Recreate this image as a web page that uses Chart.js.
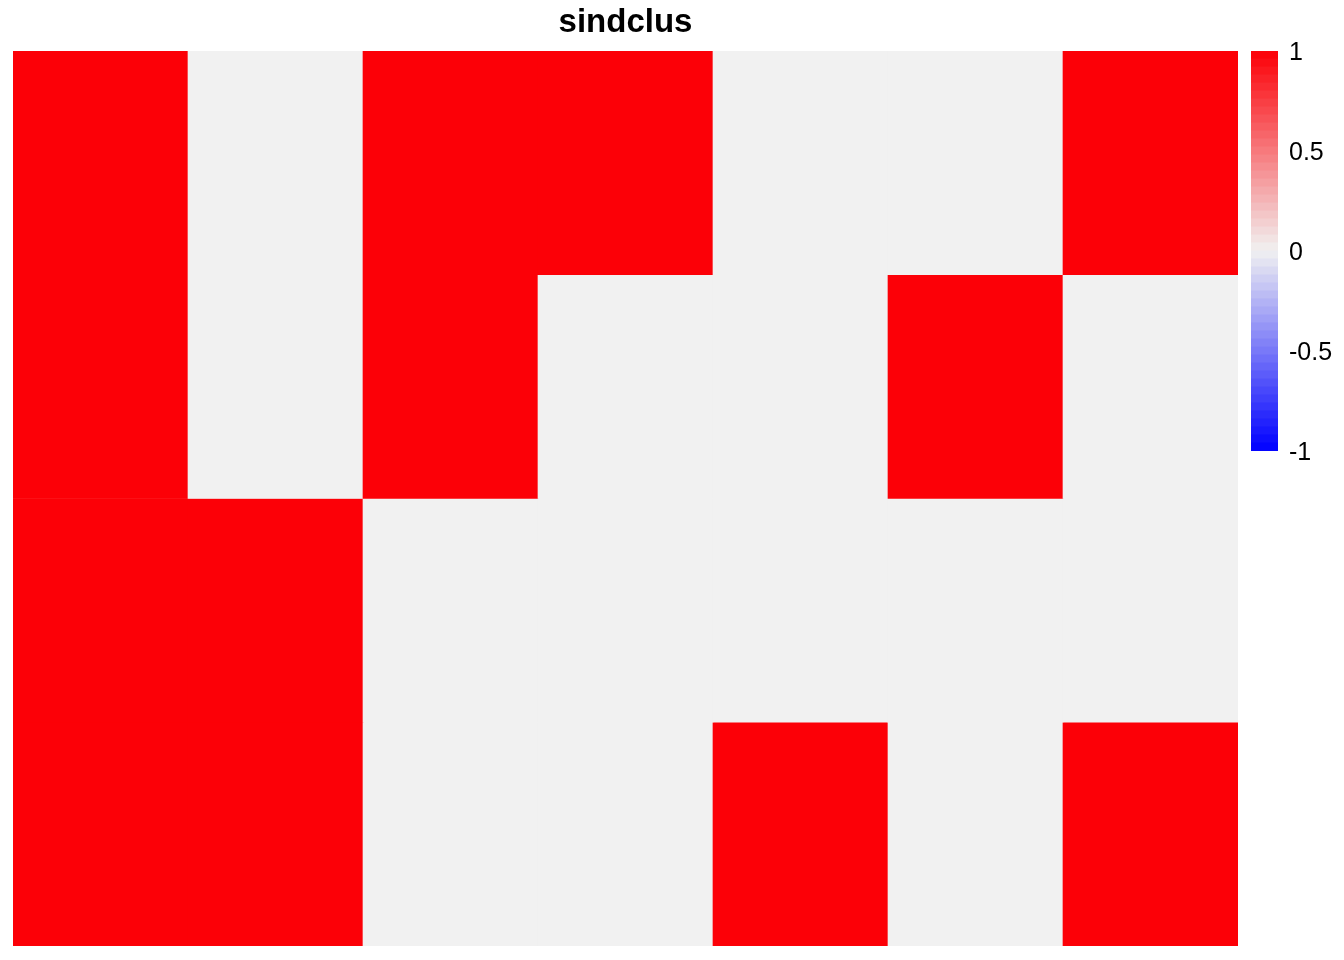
<!DOCTYPE html>
<html>
<head>
<meta charset="utf-8">
<script src="https://cdn.jsdelivr.net/npm/chart.js@4/dist/chart.umd.min.js"></script>
<style>
  html, body { margin: 0; padding: 0; background: #ffffff; }
  #wrap { position: relative; width: 1344px; height: 960px; }
  #main { position: absolute; left: 0; top: 0; }
  #legend { position: absolute; left: 1251px; top: 0; }
</style>
</head>
<body>
<div id="wrap">
  <canvas id="main" width="1344" height="960"></canvas>
  <canvas id="legend" width="93" height="960"></canvas>
</div>
<script>
// ---- data ----
const title = "sindclus";
const columns = ["1", "2", "3", "4", "5", "6", "7"];
const row1 = [1, 0, 1, 1, 0, 0, 1];
const row2 = [1, 0, 1, 0, 0, 1, 0];
const row3 = [1, 1, 0, 0, 0, 0, 0];
const row4 = [1, 1, 0, 0, 1, 0, 1];
const rows = [row1, row2, row3, row4];
const legendTicks = [1, 0.5, 0, -0.5, -1];
const legendMin = -1, legendMax = 1;
const legendSteps = 50;

// ---- colour mapping (blue - light grey - red) ----
const cLow = [0, 0, 255], cMid = [241, 241, 241], cHigh = [252, 0, 7];
function colorFor(v){
  v = Math.max(legendMin, Math.min(legendMax, v));
  let a = cMid, b, t;
  if (v >= 0){ b = cHigh; t = v / legendMax; } else { b = cLow; t = v / legendMin; }
  const c = [0,1,2].map(k => Math.round(a[k] + (b[k] - a[k]) * t));
  return `rgb(${c[0]},${c[1]},${c[2]})`;
}

// ---- main heatmap ----
const datasets = rows.map((row, r) => ({
  label: "row " + (r + 1),
  data: row.map(() => [r, r + 1]),
  backgroundColor: row.map(v => colorFor(v)),
  borderWidth: 0,
  barPercentage: 1.0,
  categoryPercentage: 1.0,
  grouped: false
}));

new Chart(document.getElementById("main"), {
  type: "bar",
  data: { labels: columns, datasets },
  options: {
    responsive: false,
    animation: false,
    layout: { padding: { left: 13, right: 106, top: 0, bottom: 14 } },
    plugins: {
      legend: { display: false },
      tooltip: { enabled: false },
      title: {
        display: true,
        text: title,
        color: "#000000",
        font: { family: "Liberation Sans, Arial, sans-serif", size: 33, weight: "bold" },
        padding: { top: 3, bottom: 8.4 }
      }
    },
    scales: {
      x: { display: false, offset: true, grid: { display: false } },
      y: { display: false, min: 0, max: rows.length, reverse: true, grid: { display: false } }
    }
  }
});

// ---- colour legend ----
const step = (legendMax - legendMin) / legendSteps;
const legendSets = [];
for (let i = 0; i < legendSteps; i++) {
  const lo = legendMin + i * step, hi = lo + step;
  legendSets.push({
    data: [[lo, hi + (i < legendSteps - 1 ? step * 0.02 : 0)]],
    backgroundColor: colorFor((lo + hi) / 2),
    borderWidth: 0,
    barPercentage: 1.0,
    categoryPercentage: 1.0,
    grouped: false
  });
}

new Chart(document.getElementById("legend"), {
  type: "bar",
  data: { labels: ["scale"], datasets: legendSets },
  options: {
    responsive: false,
    animation: false,
    layout: { padding: { left: 0, right: 0, top: 51, bottom: 509 } },
    plugins: { legend: { display: false }, tooltip: { enabled: false }, title: { display: false } },
    scales: {
      x: { display: false, grid: { display: false } },
      y: {
        position: "right",
        min: legendMin, max: legendMax,
        afterFit: s => { s.width = 66; },
        afterBuildTicks: s => { s.ticks = legendTicks.map(v => ({ value: v })); },
        border: { display: false },
        grid: { display: false, drawTicks: false },
        ticks: {
          padding: 11,
          labelOffset: 2,
          color: "#000000",
          font: { family: "Liberation Sans, Arial, sans-serif", size: 25 },
          callback: v => String(v)
        }
      }
    }
  }
});
</script>
</body>
</html>
